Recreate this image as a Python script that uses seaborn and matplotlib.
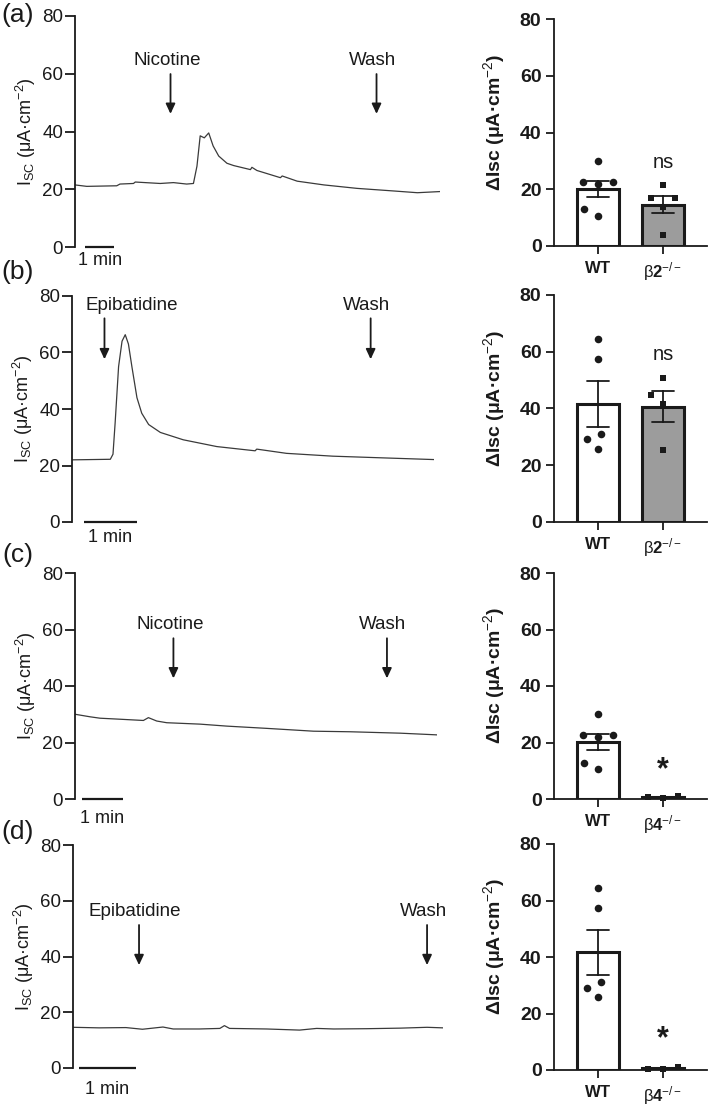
import numpy as np
import pandas as pd
import matplotlib
matplotlib.use("Agg")
import matplotlib.pyplot as plt
import seaborn as sns
from matplotlib.path import Path

# ---------------- data ----------------
# Isc traces (time in min, current in uA/cm2)
trace_a_t = [0, 0.40, 1.42, 1.53, 1.99, 2.05, 2.9, 3.35, 3.8, 4.03, 4.15, 4.26, 4.40, 4.55,
             4.70, 4.89, 5.17, 5.40, 5.97, 6.02, 6.19, 6.99, 7.05, 7.56, 8.47, 9.60, 10.85, 11.65, 12.42]
trace_a_v = [21.5, 21.0, 21.2, 21.8, 22.0, 22.5, 22.0, 22.3, 21.8, 22.0, 28.0, 38.5, 37.8, 39.5,
             35.0, 31.5, 29.0, 28.2, 26.8, 27.6, 26.5, 24.0, 24.6, 22.8, 21.5, 20.3, 19.4, 18.8, 19.2]

trace_b_t = [0, 0.72, 0.77, 0.81, 0.875, 0.94, 1.0, 1.06, 1.125, 1.22, 1.31, 1.44, 1.66, 2.09,
             2.72, 3.44, 3.47, 4.03, 4.9, 5.84, 6.8]
trace_b_v = [22.0, 22.2, 24.0, 35.0, 55.0, 64.0, 66.3, 63.0, 55.0, 44.0, 38.5, 34.5, 31.7, 29.1,
             26.7, 25.2, 25.8, 24.3, 23.3, 22.7, 22.1]

trace_c_t = [0, 0.36, 0.6, 1.0, 1.64, 1.76, 1.96, 2.2, 3.0, 3.64, 4.6, 5.72, 6.6, 7.8, 8.68]
trace_c_v = [30.0, 29.1, 28.6, 28.3, 27.8, 28.8, 27.6, 27.0, 26.5, 25.8, 25.0, 24.0, 23.8, 23.3, 22.7]

trace_d_t = [0, 0.46, 0.93, 1.22, 1.58, 1.76, 2.22, 2.58, 2.66, 2.75, 3.4, 3.98, 4.28, 4.58,
             5.16, 5.75, 6.22, 6.5]
trace_d_v = [14.6, 14.4, 14.5, 13.9, 14.7, 14.0, 14.0, 14.2, 15.2, 14.2, 14.0, 13.6, 14.2, 14.0,
             14.1, 14.3, 14.6, 14.4]

# delta Isc individual values
a_wt = [30.0, 22.7, 22.7, 21.8, 10.6, 12.9]
a_b2 = [21.5, 16.9, 16.9, 13.7, 3.9]
b_wt = [64.4, 57.5, 31.1, 29.2, 25.8]
b_b2 = [50.7, 44.8, 41.5, 25.2]
c_wt = [30.0, 22.7, 22.7, 21.8, 10.6, 12.9]
c_b4 = [0.4, 0.9, 0.6]
d_wt = [64.4, 57.5, 31.1, 29.2, 25.8]
d_b4 = [0.2, 1.0, 0.5]

labels_b2 = [r"$\mathbf{WT}$", r"β$\mathbf{2}^{-/-}$"]
labels_b4 = [r"$\mathbf{WT}$", r"β$\mathbf{4}^{-/-}$"]
yticks = [0, 20, 40, 60, 80]

# ---------------- style ----------------
sns.set_theme(style="ticks")
plt.rcParams["font.family"] = ["Liberation Sans", "DejaVu Sans"]
plt.rcParams["mathtext.fontset"] = "custom"
plt.rcParams["mathtext.rm"] = "Liberation Sans"
plt.rcParams["mathtext.it"] = "Liberation Sans:italic"
plt.rcParams["mathtext.bf"] = "Liberation Sans:bold"
plt.rcParams["axes.facecolor"] = "white"

W, H = 709, 1105
fig = plt.figure(figsize=(W / 100, H / 100), dpi=100)


def frac(x0, x1, y0, y1):
    return [x0 / W, 1 - y1 / H, (x1 - x0) / W, (y1 - y0) / H]


def padded_marker(kind, r):
    """Small visible marker inside a larger nominal box (so swarm spacing is wider)."""
    if kind == "o":
        base = Path.circle((0, 0), r)
    else:
        base = Path([(-r, -r), (r, -r), (r, r), (-r, r), (-r, -r)],
                    [Path.MOVETO, Path.LINETO, Path.LINETO, Path.LINETO, Path.CLOSEPOLY])
    pad = Path([(-1, -1), (1, 1)], [Path.MOVETO, Path.MOVETO])
    return Path.make_compound_path(base, pad)


circle_m = padded_marker("o", 0.52)
square_m = padded_marker("s", 0.46)


def trace_panel(rect, t, v, events, base_y, arr_y0, arr_y1, bar_t0, min_y):
    ax = fig.add_axes(frac(*rect))
    sns.lineplot(x=t, y=v, ax=ax, color="#3a3a3a", linewidth=0.9, estimator=None, sort=False)
    ax.set_xlim(0, t[-1])
    ax.set_ylim(0, 80)
    ax.set_yticks(yticks)
    for s in ["top", "right", "bottom"]:
        ax.spines[s].set_visible(False)
    ax.spines["left"].set_linewidth(1.3)
    ax.spines["left"].set_color("k")
    ax.set_xticks([])
    ax.tick_params(axis="y", length=7, width=1.3, labelsize=13.5, pad=1.5, colors="k")
    ax.set_xlabel("")
    ax.set_ylabel(r"I$_{\mathrm{SC}}$ (μA·cm$^{-2}$)", fontsize=13, color="k")
    ax.yaxis.set_label_coords(-0.101, 0.5)
    for name, tt, ta in events:
        ax.text(tt, base_y, name, ha="center", va="baseline", fontsize=13.5, color="k")
        ax.annotate("", xy=(ta, arr_y1), xytext=(ta, arr_y0),
                    arrowprops=dict(arrowstyle="-|>,head_length=0.6,head_width=0.28",
                                    color="k", lw=1.3, shrinkA=0, shrinkB=0,
                                    mutation_scale=10))
    ax.plot([bar_t0, bar_t0 + 1], [0, 0], color="k", lw=1.6, clip_on=False,
            solid_capstyle="butt")
    ax.text(bar_t0 + 0.5, min_y, "1 min", ha="center", va="top", fontsize=13, color="k")
    return ax


def bar_panel(rect, labels, wt, ko, ann, ann_y, ann_kind):
    ax = fig.add_axes(frac(*rect))
    groups = ["WT"] * len(wt) + ["KO"] * len(ko)
    df = pd.DataFrame({"group": groups, "value": wt + ko})
    order = ["WT", "KO"]
    sns.barplot(data=df, x="group", y="value", hue="group", order=order, hue_order=order,
                palette=["white", "#9c9c9c"], errorbar="se", capsize=0.34, width=0.65,
                edgecolor="k", linewidth=2.2, err_kws={"color": "k", "linewidth": 1.3},
                legend=False, ax=ax)
    sns.swarmplot(data=df[df.group == "WT"], x="group", y="value", order=order, color="k",
                  marker=circle_m, size=10.5, linewidth=0, ax=ax, zorder=5)
    sns.swarmplot(data=df[df.group == "KO"], x="group", y="value", order=order, color="k",
                  marker=square_m, size=10.5, linewidth=0, ax=ax, zorder=5)
    for c in ax.collections:
        c.set_clip_on(False)
    ax.set_xlim(-0.68, 1.68)
    ax.set_ylim(0, 80)
    ax.set_yticks(yticks)
    ax.set_xticks([0, 1])
    ax.set_xticklabels(labels)
    for s in ["top", "right"]:
        ax.spines[s].set_visible(False)
    for s in ["left", "bottom"]:
        ax.spines[s].set_linewidth(1.3)
        ax.spines[s].set_color("k")
    ax.tick_params(axis="y", length=6, width=1.3, labelsize=14, pad=3, colors="k")
    ax.tick_params(axis="x", length=6, width=1.3, labelsize=12, pad=4, colors="k")
    for lab in ax.get_yticklabels():
        lab.set_fontweight("bold")
    ax.set_xlabel("")
    ax.set_ylabel("ΔIsc (μA·cm$^{-2}$)", fontsize=14, fontweight="bold", color="k")
    ax.yaxis.set_label_coords(-0.307, 0.546)
    if ann_kind == "ns":
        ax.text(1, ann_y, ann, ha="center", va="center", fontsize=14.5, color="k")
    else:
        ax.text(1, ann_y, ann, ha="center", va="baseline", fontsize=22, fontweight="bold",
                color="k")
    return ax


# ---------------- panels ----------------
trace_panel((75, 440, 16, 247), trace_a_t, trace_a_v,
            [("Nicotine", 3.13, 3.25), ("Wash", 10.11, 10.26)],
            63.0, 59.9, 46.1, 0.34, -1.9)
trace_panel((72, 434, 296, 522), trace_b_t, trace_b_v,
            [("Epibatidine", 1.125, 0.61), ("Wash", 5.53, 5.61)],
            75.2, 72.1, 57.6, 0.22, -2.5)
trace_panel((75, 437, 573, 799), trace_c_t, trace_c_v,
            [("Nicotine", 2.28, 2.36), ("Wash", 7.38, 7.48)],
            60.1, 56.9, 42.7, 0.16, -4.0)
trace_panel((73, 443, 845, 1068), trace_d_t, trace_d_v,
            [("Epibatidine", 1.09, 1.16), ("Wash", 6.15, 6.22)],
            54.5, 51.3, 36.9, 0.106, -4.7)

bar_panel((554, 707, 19, 246), labels_b2, a_wt, a_b2, "ns", 29.3, "ns")
bar_panel((554, 707, 295, 522), labels_b2, b_wt, b_b2, "ns", 58.9, "ns")
bar_panel((554, 707, 573, 799), labels_b4, c_wt, c_b4, "*", 7.5, "star")
bar_panel((554, 707, 844, 1070), labels_b4, d_wt, d_b4, "*", 8.2, "star")

for lab, y in [("(a)", 15), ("(b)", 272), ("(c)", 555), ("(d)", 832)]:
    fig.text(18 / W, 1 - y / H, lab, ha="center", va="center", fontsize=19, color="k")

fig.savefig("out.png", dpi=100)
